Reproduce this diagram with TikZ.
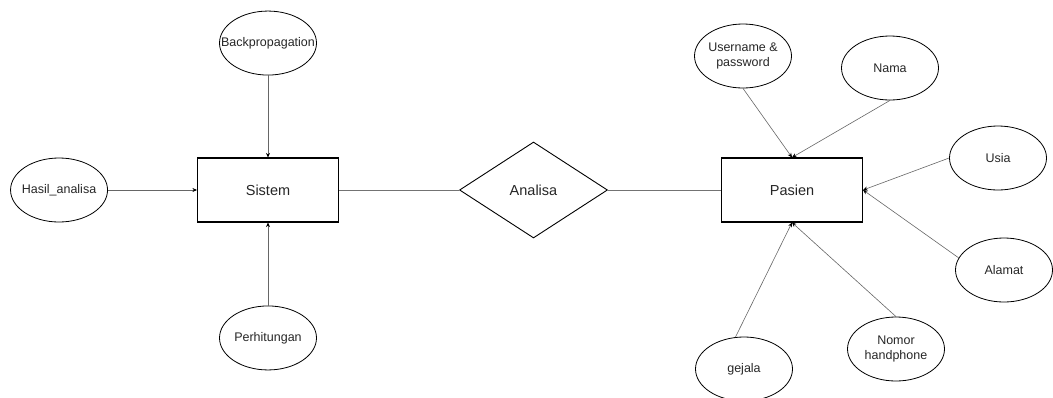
\documentclass[tikz,border=0pt]{standalone}
\usepackage{fontspec}
\setmainfont{Liberation Sans}
\usepackage{tikz}
\usetikzlibrary{shapes.geometric, arrows.meta, positioning}

\begin{document}
\begin{tikzpicture}[
    x=1pt, y=-1pt,
    entity/.style={rectangle, draw, line width=1.1pt, minimum width=141pt, minimum height=64pt, inner sep=0pt, text=black!85, font=\fontsize{14.5}{17}\selectfont},
    relation/.style={diamond, draw, line width=0.9pt, minimum width=148pt, minimum height=96pt, inner sep=0pt, text=black!85, font=\fontsize{14.5}{17}\selectfont},
    attr/.style={ellipse, draw, line width=0.8pt, minimum width=97pt, minimum height=64pt, inner xsep=-20pt, inner ysep=0pt, align=center, text=black!85, font=\fontsize{12.5}{15}\selectfont},
    link/.style={draw=black!55, line width=0.8pt},
    arrow/.style={draw=black!60, line width=0.6pt, -{Stealth[length=4.5pt, width=4pt, color=black]}}
]
\useasboundingbox (0,0) rectangle (1053,397);

\node[entity] (sistem) at (268,190) {Sistem};
\node[attr, above=82pt of sistem] (backprop) {Backpropagation};
\node[attr, below=83pt of sistem] (hitung) {Perhitungan};
\node[attr, left=89pt of sistem] (hasil) {Hasil\_analisa};
\node[relation, right=120pt of sistem] (analisa) {Analisa};
\node[entity, right=113pt of analisa] (pasien) {Pasien};

% atribut pasien
\node[attr] (user) at (743,56) {Username \&\\password};
\node[attr] (nama) at (890,68) {Nama};
\node[attr] (usia) at (998,158) {Usia};
\node[attr] (alamat) at (1004,270) {Alamat};
\node[attr] (nomor) at (896,349) {Nomor\\handphone};
\node[attr] (gejala) at (744,369) {gejala};

\draw[link] (sistem) -- (analisa);
\draw[link] (analisa) -- (pasien);

\draw[arrow] (backprop) -- (sistem);
\draw[arrow] (hitung) -- (sistem);
\draw[arrow] (hasil) -- (sistem);

\draw[arrow] (user.south) -- (pasien.north);
\draw[arrow] (nama.south) -- (pasien.north);
\draw[arrow] (usia.west) -- (pasien.east);
\draw[arrow] (alamat.165) -- (pasien.east);
\draw[arrow] (nomor.north) -- (pasien.south);
\draw[arrow] (gejala.105) -- (pasien.south);
\end{tikzpicture}
\end{document}
